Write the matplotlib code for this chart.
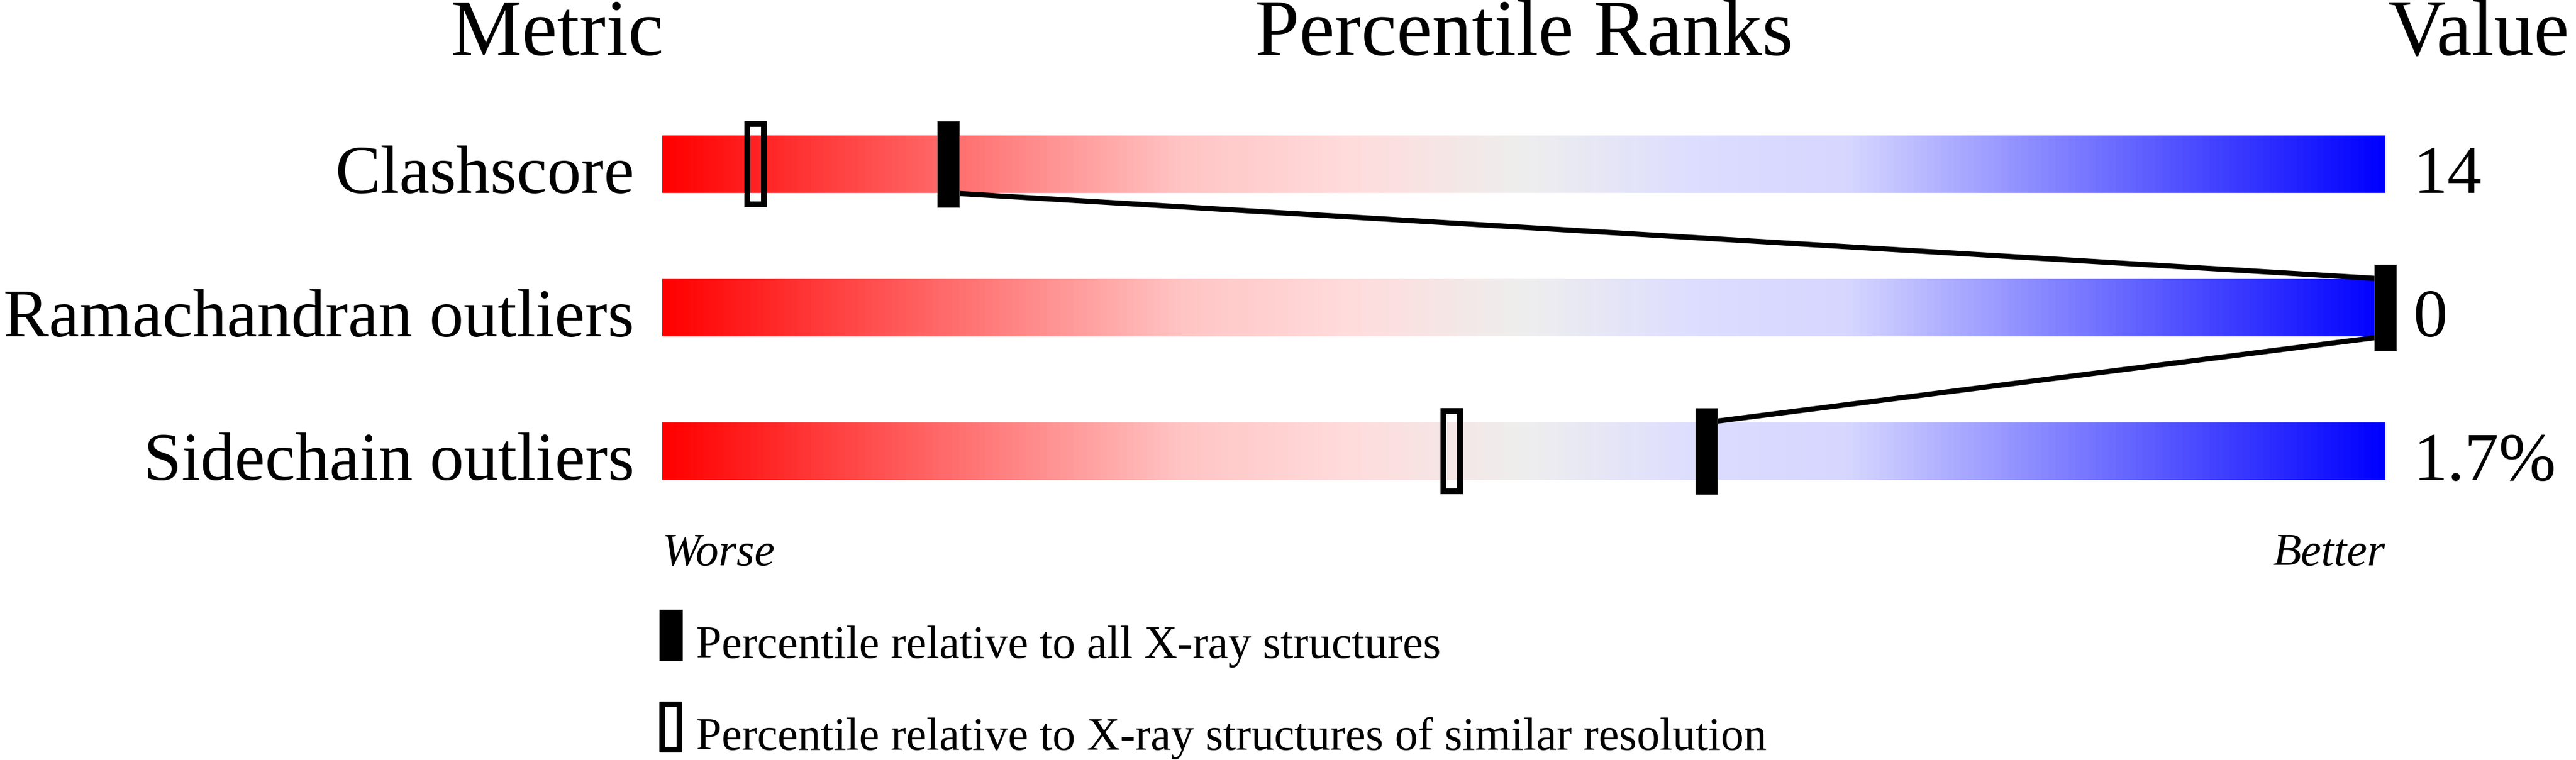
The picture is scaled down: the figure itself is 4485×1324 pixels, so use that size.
import numpy as np
import matplotlib
matplotlib.use("Agg")
import matplotlib.pyplot as plt
from matplotlib.colors import LinearSegmentedColormap
from matplotlib.patches import Rectangle

plt.rcParams['font.family'] = ['Liberation Serif', 'DejaVu Serif']

# ---- data ----
metrics = ["Clashscore", "Ramachandran outliers", "Sidechain outliers"]
values = ["14", "0", "1.7%"]
pct_all = [16.6, 100, 60.6]      # percentile relative to all X-ray structures
pct_similar = [5.4, 100, 45.8]   # percentile relative to similar resolution
headers = ["Metric", "Percentile Ranks", "Value"]
legend_labels = ["Percentile relative to all X-ray structures",
                 "Percentile relative to X-ray structures of similar resolution"]
scale_labels = ["Worse", "Better"]

W, H = 4485, 1324
DPI = 100
fig = plt.figure(figsize=(W / DPI, H / DPI), dpi=DPI)

# full-figure axes in pixel coordinates (for headers / legend)
axf = fig.add_axes([0, 0, 1, 1])
axf.set_xlim(0, W)
axf.set_ylim(H, 0)
axf.axis('off')

# bar axes: x = percentile 0..100, y = row index
bx0, bx1 = 1153, 4153
by0, by1 = 161, 911
axb = fig.add_axes([bx0 / W, 1 - by1 / H, (bx1 - bx0) / W, (by1 - by0) / H])
axb.set_xlim(0, 100)
axb.set_ylim(len(metrics) - 0.5, -0.5)
axb.axis('off')

px_x = 100.0 / (bx1 - bx0)        # data units per pixel (x)
px_y = len(metrics) / (by1 - by0) # data units per pixel (y)

cmap = LinearSegmentedColormap.from_list("slider", [
    (0.00, "#FF0000"),
    (0.30, "#FFC4C4"),
    (0.40, "#FFDCDC"),
    (0.50, "#EEEEEE"),
    (0.60, "#DDDDFF"),
    (0.69, "#D6D6FF"),
    (1.00, "#0000FF"),
])
grad = np.linspace(0, 1, 1000).reshape(1, -1)

bar_h = 100 * px_y
mk_w, mk_h = 38 * px_x, 150 * px_y
op_w, op_h = 29 * px_x, 140 * px_y
lw_open = 10 * 72 / DPI
lw_line = 9 * 72 / DPI

for i, name in enumerate(metrics):
    axb.imshow(grad, cmap=cmap, aspect='auto', interpolation='bilinear',
               extent=(0, 100, i + bar_h / 2, i - bar_h / 2), zorder=1)
    # row label
    axb.text(-49 * px_x, i + bar_h / 2, name, ha='right', va='baseline',
             fontsize=85.5, clip_on=False)
    # value
    axb.text(100 + 48 * px_x, i + bar_h / 2, values[i], ha='left', va='baseline',
             fontsize=86, clip_on=False)
    # open marker (similar resolution)
    axb.add_patch(Rectangle((pct_similar[i] - op_w / 2, i - op_h / 2), op_w, op_h,
                            facecolor='none', edgecolor='black', lw=lw_open,
                            joinstyle='miter', zorder=3, clip_on=False))

# connecting lines between filled markers
for i in range(len(metrics) - 1):
    axb.plot([pct_all[i], pct_all[i + 1]],
             [i + bar_h / 2, i + 1 - bar_h / 2],
             color='black', lw=lw_line, solid_capstyle='butt', zorder=4, clip_on=False)

for i in range(len(metrics)):
    axb.add_patch(Rectangle((pct_all[i] - mk_w / 2, i - mk_h / 2), mk_w, mk_h,
                            facecolor='black', edgecolor='#555555', lw=0.8,
                            zorder=5, clip_on=False))

# headers
axf.text(970, 96, headers[0], ha='center', va='baseline', fontsize=100)
axf.text((bx0 + bx1) / 2, 96, headers[1], ha='center', va='baseline', fontsize=100)
axf.text(4316, 96, headers[2], ha='center', va='baseline', fontsize=100)

# worse / better
axf.text(bx0, 985, scale_labels[0], ha='left', va='baseline', fontsize=57.5, style='italic')
axf.text(bx1, 985, scale_labels[1], ha='right', va='baseline', fontsize=57.5, style='italic')

# legend
axf.add_patch(Rectangle((1148, 1062), 40, 89, facecolor='black', edgecolor='#555555', lw=0.8))
axf.add_patch(Rectangle((1153, 1227), 30, 79, facecolor='none', edgecolor='black',
                        lw=lw_open, joinstyle='miter'))
axf.text(1212, 1146, legend_labels[0], ha='left', va='baseline', fontsize=57.5)
axf.text(1212, 1306, legend_labels[1], ha='left', va='baseline', fontsize=57.5)

fig.savefig("out.png", dpi=DPI, facecolor='white')
